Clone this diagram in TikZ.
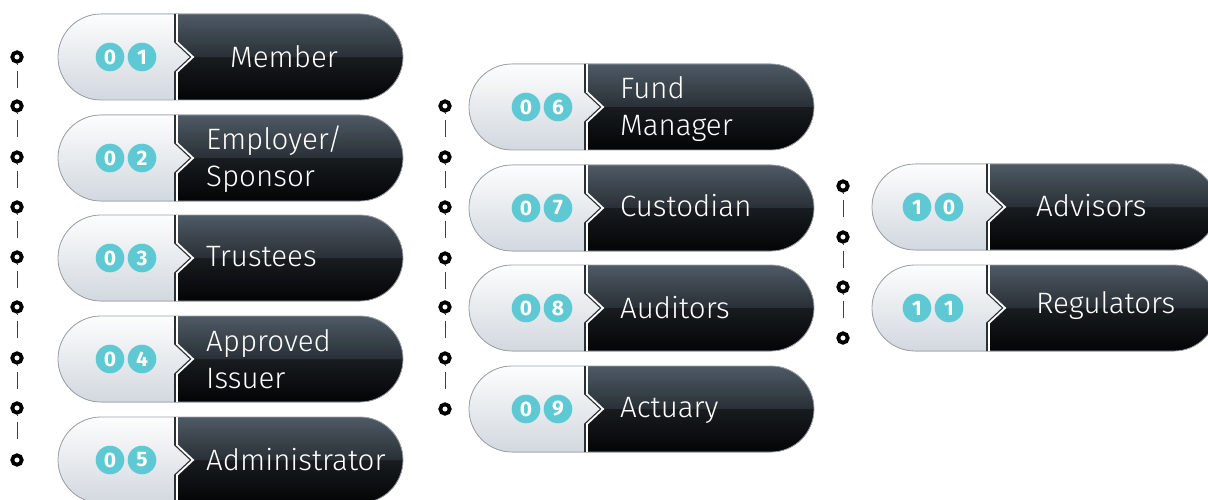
\documentclass[tikz,border=0pt]{standalone}
\usepackage{fontspec}
\setmainfont{Fira Sans}[UprightFont=* Light,BoldFont=* Bold]
\usepackage{tikz}
\definecolor{teal}{RGB}{94,200,211}
\definecolor{ltA}{RGB}{253,253,253}
\definecolor{ltB}{RGB}{210,216,223}
\definecolor{dkA}{RGB}{78,90,101}
\definecolor{dkB}{RGB}{42,48,54}
\definecolor{dkC}{RGB}{24,28,32}
\definecolor{dkD}{RGB}{3,4,5}
\definecolor{rim}{RGB}{157,162,168}
\pgfdeclareverticalshading{darkpill}{100bp}{color(0bp)=(dkD); color(25bp)=(dkD);
  color(50bp)=(dkC); color(50.4bp)=(dkB); color(75bp)=(dkA); color(100bp)=(dkA)}

\begin{document}
\begin{tikzpicture}[x=1pt,y=1pt,
  ring/.style={circle,draw=black,line width=3.8pt,minimum size=9.4pt,inner sep=0pt},
  link/.style={draw=black!75,line width=0.8pt,dash pattern=on 1pt off 6pt on 17pt off 60pt},
  badge/.style={circle,fill=teal,text=white,minimum size=28.6pt,inner sep=0pt,
    font=\fontsize{21}{21}\selectfont\bfseries},
  lbl/.style={text=white,inner sep=0pt,align=left,font=\fontsize{29.5}{37}\selectfont}]
\useasboundingbox (0,0) rectangle (1208,-500);

% pills: left x / centre y / split / badge offset / digits
\foreach \L/\cy/\sp/\bo/\na/\nb [count=\i] in
  {58/57/118/52/0/1, 58/158/118/52/0/2, 58/258/118/52/0/3, 58/359/118/52/0/4,
   58/460/118/52/0/5, 469/107/117/57/0/6, 469/208/117/57/0/7, 469/308/117/57/0/8,
   469/409/117/57/0/9, 872/207/116/45/1/0, 872/308/116/45/1/1}{
  \pgfmathsetmacro\Y{-\cy}
  \pgfmathsetmacro\T{\Y+43}
  \pgfmathsetmacro\B{\Y-43}
  \pgfmathsetmacro\S{\L+\sp}
  \pgfmathsetmacro\R{\L+345}
  \fill[top color=ltA,bottom color=ltB] (\S,\T) -- ({\L+43},\T) arc[start angle=90,end angle=270,radius=43]
    -- (\S,\B) -- (\S,{\Y-15}) -- ({\S+16},\Y) -- (\S,{\Y+15}) -- cycle;
  \fill[shading=darkpill] (\S,\T) -- ({\R-43},\T) arc[start angle=90,end angle=-90,radius=43]
    -- (\S,\B) -- (\S,{\Y-15}) -- ({\S+16},\Y) -- (\S,{\Y+15}) -- cycle;
  \draw[rim,line width=0.8pt] ({\L+43},\T) -- ({\R-43},\T) arc[start angle=90,end angle=-90,radius=43]
    -- ({\L+43},\B) arc[start angle=270,end angle=90,radius=43] -- cycle;
  \draw[dkB,line width=1.6pt,xshift=-1pt] (\S,\T) -- (\S,{\Y+15}) -- ({\S+16},\Y) -- (\S,{\Y-15}) -- (\S,\B);
  \draw[white,line width=1.8pt,xshift=1pt] (\S,\T) -- (\S,{\Y+15}) -- ({\S+16},\Y) -- (\S,{\Y-15}) -- (\S,\B);
  \node[badge] (n\i a) at ({\L+\bo},\Y) {\na};
  \node[badge] (n\i b) at ({\L+\bo+32},\Y) {\nb};
}

% labels
\node[lbl,anchor=base] (member) at (284,-68) {Member};
\node[lbl,anchor=base west] (employer) at (206,-186) {Employer/\\Sponsor};
\node[lbl,anchor=base west] (trustees) at (206,-266) {Trustees};
\node[lbl,anchor=base west] (issuer) at (206,-388) {Approved\\Issuer};
\node[lbl,anchor=base west] (admin) at (206,-470) {Administrator};
\node[lbl,anchor=base west] (fund) at (620,-136) {Fund\\Manager};
\node[lbl,anchor=base west] (custodian) at (620,-216) {Custodian};
\node[lbl,anchor=base west] (auditors) at (620,-318) {Auditors};
\node[lbl,anchor=base west] (actuary) at (620,-417) {Actuary};
\node[lbl,anchor=base west] (advisors) at (1036,-216) {Advisors};
\node[lbl,anchor=base west] (regulators) at (1036,-313) {Regulators};

% dotted rails
\foreach \y [count=\i] in {57,106,157,207,257,307,358,408,460}
  \node[ring] (a\i) at (17,-\y) {};
\foreach \y [count=\i] in {106,157,207,258,307,358,409}
  \node[ring] (b\i) at (445,-\y) {};
\foreach \y [count=\i] in {186,237,287,338}
  \node[ring] (c\i) at (843,-\y) {};
\foreach \i [evaluate=\i as \j using int(\i+1)] in {1,...,8}
  \draw[link] (a\i) -- (a\j);
\foreach \i [evaluate=\i as \j using int(\i+1)] in {1,...,6}
  \draw[link] (b\i) -- (b\j);
\foreach \i [evaluate=\i as \j using int(\i+1)] in {1,...,3}
  \draw[link] (c\i) -- (c\j);
\end{tikzpicture}
\end{document}
